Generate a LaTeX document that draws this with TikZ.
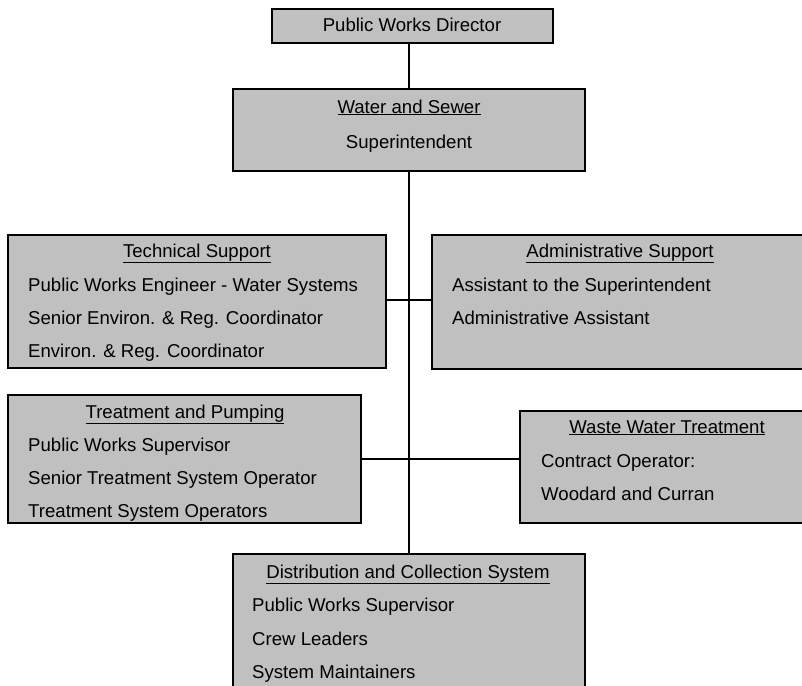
\documentclass[tikz,border=0pt]{standalone}
\usepackage{fontspec}
\setmainfont{Liberation Sans}
\definecolor{boxgray}{HTML}{C0C0C0}
\newcommand{\fs}{\fontsize{18.6}{22}\selectfont}
\begin{document}
\begin{tikzpicture}[x=1pt,y=-1pt,
  box/.style={draw, line width=2pt, fill=boxgray, anchor=north west, inner sep=0pt, outer sep=0pt},
  lbl/.style={anchor=base west, inner sep=0pt, font=\fs},
  ttl/.style={anchor=base, inner sep=0pt, font=\fs},
  conn/.style={line width=2pt}]
\clip (0,0) rectangle (802,685);
\fill[white] (0,0) rectangle (802,685);
% boxes
\node[box, minimum width=281pt, minimum height=34pt] (dir) at (272,9) {};
\node[box, minimum width=352pt, minimum height=82pt] (ws) at (233,89) {};
\node[box, minimum width=378pt, minimum height=133pt] (tech) at (8,235) {};
\node[box, minimum width=380pt, minimum height=134pt] (admin) at (432,235) {};
\node[box, minimum width=353pt, minimum height=128pt] (treat) at (8,395) {};
\node[box, minimum width=294pt, minimum height=112pt] (waste) at (520,411) {};
\node[box, minimum width=352pt, minimum height=146pt] (dist) at (233,554) {};
% connectors
\coordinate (j1) at (409,300);
\draw[conn] (ws.north) -- (ws.north |- dir.south);
\draw[conn] (ws.south) -- (dist.north);
\draw[conn] (tech.east |- j1) -- (admin.west |- j1);
\draw[conn] (treat.east) -- (treat.east -| waste.west);
% texts
\node[ttl] (tdir) at (412,32) {Public Works Director};
\node[ttl] (tws1) at (409,113) {\underline{Water and Sewer}};
\node[ttl] (tws2) at (409,148) {Superintendent};
\node[ttl] (ttech) at (197,257) {\underline{Technical Support}};
\node[lbl] (tech1) at (28,291) {Public Works Engineer - Water Systems};
\node[lbl] (tech2) at (28,324) {Senior Environ. \& Reg. Coordinator};
\node[lbl] (tech3) at (28,357) {Environ. \& Reg. Coordinator};
\node[ttl] (tadmin) at (620,257) {\underline{Administrative Support}};
\node[lbl] (admin1) at (452,291) {Assistant to the Superintendent};
\node[lbl] (admin2) at (452,324) {Administrative Assistant};
\node[ttl] (ttreat) at (185,418) {\underline{Treatment and Pumping}};
\node[lbl] (treat1) at (28,451) {Public Works Supervisor};
\node[lbl] (treat2) at (28,484) {Senior Treatment System Operator};
\node[lbl] (treat3) at (28,517) {Treatment System Operators};
\node[ttl] (twaste) at (667,433) {\underline{Waste Water Treatment}};
\node[lbl] (waste1) at (541,467) {Contract Operator:};
\node[lbl] (waste2) at (541,500) {Woodard and Curran};
\node[ttl] (tdist) at (408,578) {\underline{Distribution and Collection System}};
\node[lbl] (dist1) at (252,611) {Public Works Supervisor};
\node[lbl] (dist2) at (252,645) {Crew Leaders};
\node[lbl] (dist3) at (252,678) {System Maintainers};
\end{tikzpicture}
\end{document}
